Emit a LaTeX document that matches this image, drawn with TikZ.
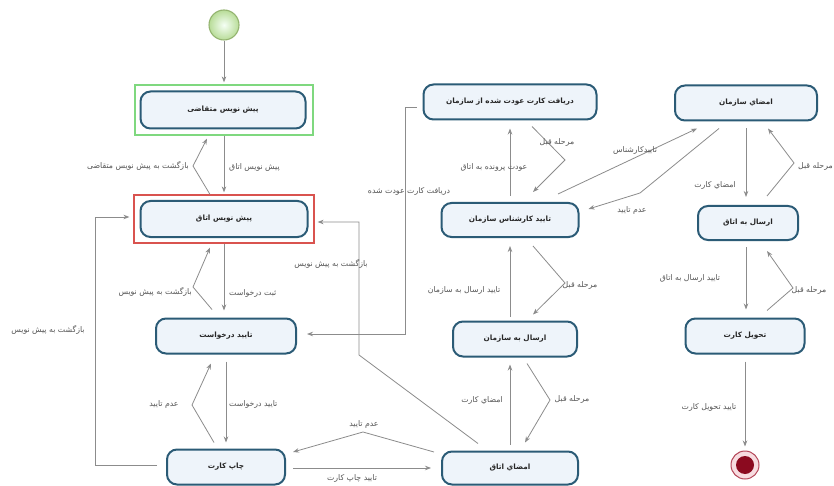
\documentclass[tikz,border=0pt]{standalone}
\usepackage{fontspec}
\usetikzlibrary{arrows.meta,calc}
\TeXXeTstate=1
\newfontfamily\fa[Script=Arabic]{DejaVu Sans}
\newcommand\myrtl[1]{\fa\beginR #1\endR}
\definecolor{boxborder}{HTML}{2B5B76}
\definecolor{boxfill}{HTML}{EEF4FA}
\definecolor{edgegray}{HTML}{8C8C8C}
\definecolor{labelgray}{HTML}{555555}
\definecolor{framegreen}{HTML}{7FD87F}
\definecolor{framered}{HTML}{D9534F}
\definecolor{startgreen}{HTML}{B8DC98}
\definecolor{startborder}{HTML}{94B470}
\definecolor{endpink}{HTML}{F7DCE0}
\definecolor{endborder}{HTML}{B5485A}
\definecolor{enddark}{HTML}{8B0A1F}
\begin{document}
\begin{tikzpicture}[x=1pt,y=-1pt,
  state/.style={draw=boxborder, line width=2pt, fill=boxfill, rounded corners=10pt,
    font=\fontsize{7.3}{8}\selectfont\bfseries, text=black!85, inner sep=0pt},
  frame/.style={line width=1.2pt, inner sep=0pt},
  edge/.style={draw=edgegray, line width=0.8pt, -{Stealth[length=6pt,width=4.5pt]}},
  lbl/.style={font=\fontsize{7.8}{9}\selectfont, text=labelgray, inner sep=1pt},
]
\useasboundingbox (0,0) rectangle (834,486);
\fill[white] (0,0) rectangle (834,486);

% initial / final
\node[circle, minimum size=30pt, draw=startborder, line width=1.1pt,
      inner color=green!4, outer color=startgreen, inner sep=0pt] (start) at (224,25) {};
\node[circle, minimum size=28pt, draw=endborder, line width=1pt, fill=endpink, inner sep=0pt] (end) at (745,465) {};
\node[circle, minimum size=18pt, fill=enddark, inner sep=0pt] (endcore) at (745,465) {};

% frames
\node[frame, draw=framegreen, minimum width=178pt, minimum height=50pt] (f1) at (224,110) {};
\node[frame, draw=framered, minimum width=180pt, minimum height=48pt] (f2) at (224,219) {};

% states
\node[state, minimum width=165pt, minimum height=37pt] (b1) at (223,110) {\myrtl{پیش نویس متقاضی}};
\node[state, minimum width=167pt, minimum height=36pt] (b2) at (224,219) {\myrtl{پیش نویس اتاق}};
\node[state, minimum width=140pt, minimum height=35pt] (b3) at (226,336) {\myrtl{تایید درخواست}};
\node[state, minimum width=118pt, minimum height=35pt] (b4) at (226,467) {\myrtl{چاپ کارت}};
\node[state, minimum width=173pt, minimum height=35pt] (b5) at (510,102) {\myrtl{دریافت کارت عودت شده از سازمان}};
\node[state, minimum width=137pt, minimum height=34pt] (b6) at (510,220) {\myrtl{تایید کارشناس سازمان}};
\node[state, minimum width=124pt, minimum height=35pt] (b7) at (515,339) {\myrtl{ارسال به سازمان}};
\node[state, minimum width=136pt, minimum height=33pt] (b8) at (510,468) {\myrtl{امضاي اتاق}};
\node[state, minimum width=142pt, minimum height=35pt] (b9) at (746,103) {\myrtl{امضاي سازمان}};
\node[state, minimum width=100pt, minimum height=34pt] (b10) at (748,223) {\myrtl{ارسال به اتاق}};
\node[state, minimum width=119pt, minimum height=35pt] (b11) at (745,336) {\myrtl{تحویل کارت}};

% bend points
\coordinate (c3) at (193,166);
\coordinate (c5) at (193,287);
\coordinate (c7) at (192,405);
\coordinate (c8a) at (95,465);
\coordinate (c8b) at (95,217);
\coordinate (c10) at (363,432);
\coordinate (c11a) at (359,355);
\coordinate (c11b) at (359,222);
\coordinate (c12a) at (405,107);
\coordinate (c12b) at (405,334);
\coordinate (c14) at (565,160);
\coordinate (c16) at (565,283);
\coordinate (c18) at (550,400);
\coordinate (c20) at (640,193);
\coordinate (c22) at (794,163);
\coordinate (c24) at (793,288);

% connectors
\draw[edge] (start.south) -- ($(f1.north)+(0,-2)$);
\draw[edge] (f1.south) -- ($(f2.north)+(0,-2)$);
\draw[edge] ($(f2.north)+(-14,0)$) -- (c3) -- ($(f1.south)+(-17,3)$);
\draw[edge] (f2.south) -- ($(b3.north)+(-2,-7)$);
\draw[edge] ($(b3.north)+(-14,-8)$) -- (c5) -- ($(f2.south)+(-14,4)$);
\draw[edge] ($(b3.south)+(0,7)$) -- ($(b4.north)+(0,-6)$);
\draw[edge] ($(b4.north)+(-12,-6)$) -- (c7) -- ($(b3.south)+(-15,9)$);
\draw[edge] ($(b4.west)+(-9,-2)$) -- (c8a) -- (c8b) -- ($(f2.west)+(-4,-2)$);
\draw[edge] ($(b4.east)+(7,1)$) -- ($(b8.west)+(-10,0)$);
\draw[edge] ($(b8.west)+(-7,-16)$) -- (c10) -- ($(b4.east)+(7,-15)$);
\draw[edge] ($(b8.north)+(-32,-7)$) -- (c11a) -- (c11b) -- ($(f2.east)+(3,3)$);
\draw[edge] ($(b5.west)+(-6,5)$) -- (c12a) -- (c12b) -- ($(b3.east)+(10,-2)$);
\draw[edge] ($(b6.north)+(0,-6)$) -- ($(b5.south)+(0,8)$);
\draw[edge] ($(b5.south)+(22,6)$) -- (c14) -- ($(b6.north)+(23,-10)$);
\draw[edge] ($(b7.north)+(-5,-4)$) -- ($(b6.south)+(0,8)$);
\draw[edge] ($(b6.south)+(23,8)$) -- (c16) -- ($(b7.north)+(18,-6)$);
\draw[edge] ($(b8.north)+(0,-6)$) -- ($(b7.south)+(-5,7)$);
\draw[edge] ($(b7.south)+(12,6)$) -- (c18) -- ($(b8.north)+(15,-8)$);
\draw[edge] ($(b6.north)+(48,-8)$) -- ($(b9.south)+(-49,7)$);
\draw[edge] ($(b9.south)+(-27,7)$) -- (c20) -- ($(b6.east)+(9,-11)$);
\draw[edge] ($(b9.south)+(0,7)$) -- ($(b10.north)+(-2,-8)$);
\draw[edge] ($(b10.north)+(19,-9)$) -- (c22) -- ($(b9.south)+(22,7)$);
\draw[edge] ($(b10.south)+(-2,6)$) -- ($(b11.north)+(1,-8)$);
\draw[edge] ($(b11.north)+(22,-7)$) -- (c24) -- ($(b10.south)+(19,10)$);
\draw[edge] ($(b11.south)+(0,7)$) -- ($(end.north)+(0,-4)$);

% labels
\node[lbl, anchor=west] (l1) at (228,167) {\myrtl{پیش نویس اتاق}};
\node[lbl, anchor=east] (l2) at (190,166) {\myrtl{بازگشت به پیش نویس متقاضی}};
\node[lbl, anchor=west] (l3) at (228,293) {\myrtl{ثبت درخواست}};
\node[lbl, anchor=east] (l4) at (193,292) {\myrtl{بازگشت به پیش نویس}};
\node[lbl, anchor=west] (l5) at (228,404) {\myrtl{تایید درخواست}};
\node[lbl] (l6) at (164,404) {\myrtl{عدم تایید}};
\node[lbl] (l7) at (48,330) {\myrtl{بازگشت به پیش نویس}};
\node[lbl] (l8) at (352,478) {\myrtl{تایید چاپ کارت}};
\node[lbl] (l9) at (364,424) {\myrtl{عدم تایید}};
\node[lbl] (l10) at (331,264) {\myrtl{بازگشت به پیش نویس}};
\node[lbl] (l11) at (409,191) {\myrtl{دریافت کارت عودت شده}};
\node[lbl] (l12) at (494,167) {\myrtl{عودت پرونده به اتاق}};
\node[lbl] (l13) at (557,142) {\myrtl{مرحله قبل}};
\node[lbl] (l14) at (464,290) {\myrtl{تایید ارسال به سازمان}};
\node[lbl] (l15) at (580,285) {\myrtl{مرحله قبل}};
\node[lbl] (l16) at (482,400) {\myrtl{امضاي کارت}};
\node[lbl] (l17) at (572,399) {\myrtl{مرحله قبل}};
\node[lbl] (l18) at (635,150) {\myrtl{تاییدکارشناس}};
\node[lbl] (l19) at (632,210) {\myrtl{عدم تایید}};
\node[lbl] (l20) at (715,185) {\myrtl{امضاي کارت}};
\node[lbl, anchor=west] (l21) at (797,166) {\myrtl{مرحله قبل}};
\node[lbl] (l22) at (690,278) {\myrtl{تایید ارسال به اتاق}};
\node[lbl] (l23) at (809,290) {\myrtl{مرحله قبل}};
\node[lbl] (l24) at (709,407) {\myrtl{تایید تحویل کارت}};
\end{tikzpicture}
\end{document}
